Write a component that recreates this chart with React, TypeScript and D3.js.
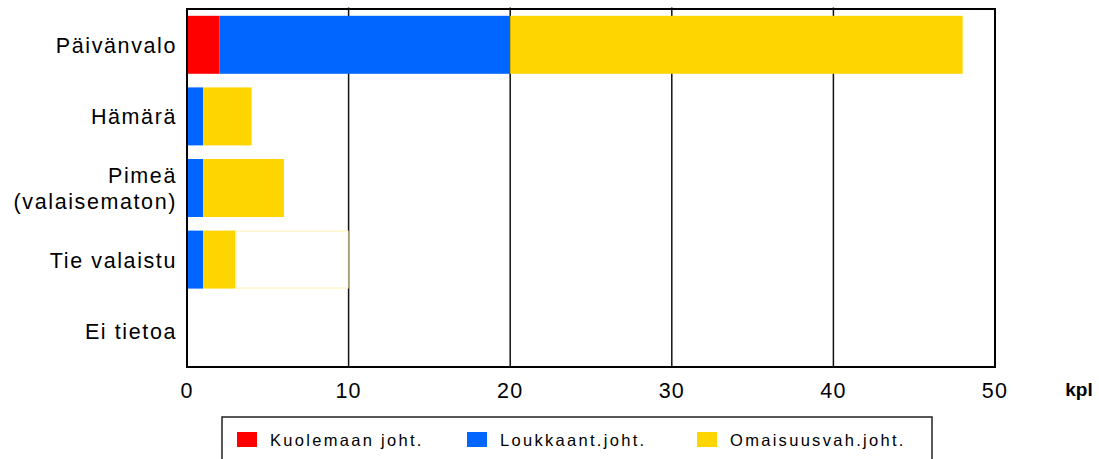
import React from "react";
import * as d3 from "d3";

const categories = ["Päivänvalo", "Hämärä", "Pimeä (valaisematon)", "Tie valaistu", "Ei tietoa"];
const categoryLines = [["Päivänvalo"], ["Hämärä"], ["Pimeä", "(valaisematon)"], ["Tie valaistu"], ["Ei tietoa"]];
const seriesNames = ["Kuolemaan joht.", "Loukkaant.joht.", "Omaisuusvah.joht."];
const kuolemaan = [2, 0, 0, 0, 0];
const loukkaant = [18, 1, 1, 1, 0];
const omaisuus = [28, 3, 5, 2, 0];
const blank = [0, 0, 0, 7, 0];
const colors = ["#FF0000", "#0066FF", "#FFD500"];
const xTicks = [0, 10, 20, 30, 40, 50];
const unitLabel = "kpl";

const W = 1099, H = 459;
const FONT = "'Liberation Sans', Arial, sans-serif";

export default function App() {
  const x = d3.scaleLinear().domain([0, 50]).range([187, 995]);
  const y = d3.scaleBand<string>().domain(categories).range([9, 367]).paddingInner(0.19).paddingOuter(0.095);
  const rows = categories.map((c, i) => ({ cat: c, k0: kuolemaan[i], k1: loukkaant[i], k2: omaisuus[i], k3: blank[i] }));
  const stack = d3.stack<any>().keys(["k0", "k1", "k2", "k3"]);
  const stacked = stack(rows);
  const top = 9, bottom = 367;
  return (
    <svg width={W} height={H} style={{ position: "absolute", left: 0, top: 0 }} fontFamily={FONT}>
      <rect x={0} y={0} width={W} height={H} fill="#fff" />
      {xTicks.slice(1, -1).map((t) => (
        <line key={t} x1={x(t)} x2={x(t)} y1={top - 1.5} y2={bottom} stroke="#111" strokeWidth={1.5} />
      ))}
      {stacked.map((s, si) =>
        s.map((d, i) => {
          const w = x(d[1]) - x(d[0]);
          if (w <= 0) return null;
          if (si === 3) {
            return (
              <rect key={si + "-" + i} x={x(d[0]) + 0.5} y={y(categories[i])! + 0.5} width={w - 1} height={y.bandwidth() - 1}
                fill="#fff" stroke="#FFF2B0" strokeWidth={1} />
            );
          }
          return (
            <rect key={si + "-" + i} x={x(d[0])} y={y(categories[i])!} width={w} height={y.bandwidth()} fill={colors[si]} />
          );
        })
      )}
      <rect x={x(0)} y={top} width={x(50) - x(0)} height={bottom - top} fill="none" stroke="#000" strokeWidth={2} />
      {categories.map((c, i) => {
        const lines = categoryLines[i];
        const cy = y(c)! + y.bandwidth() / 2;
        const lh = 26;
        return (
          <text key={c} x={177} textAnchor="end" fontSize={21.5} letterSpacing={1.6} fill="#000">
            {lines.map((l, j) => (
              <tspan key={j} x={177} y={cy + 8 + (j - (lines.length - 1) / 2) * lh}>{l}</tspan>
            ))}
          </text>
        );
      })}
      {xTicks.map((t) => (
        <text key={t} x={x(t)} y={398} textAnchor="middle" fontSize={21.5} letterSpacing={1.2} fill="#000">{t}</text>
      ))}
      <text x={1079} y={396} textAnchor="middle" fontSize={19} fontWeight="bold" fill="#000">{unitLabel}</text>
      <rect x={222} y={417} width={710} height={60} fill="#fff" stroke="#222" strokeWidth={1.5} />
      {seriesNames.map((n, i) => {
        const sx = [237, 467, 697][i];
        return (
          <g key={n}>
            <rect x={sx} y={432} width={20} height={15} fill={colors[i]} />
            <text x={sx + 33} y={446} fontSize={16.5} letterSpacing={2.3} fill="#000">{n}</text>
          </g>
        );
      })}
    </svg>
  );
}
